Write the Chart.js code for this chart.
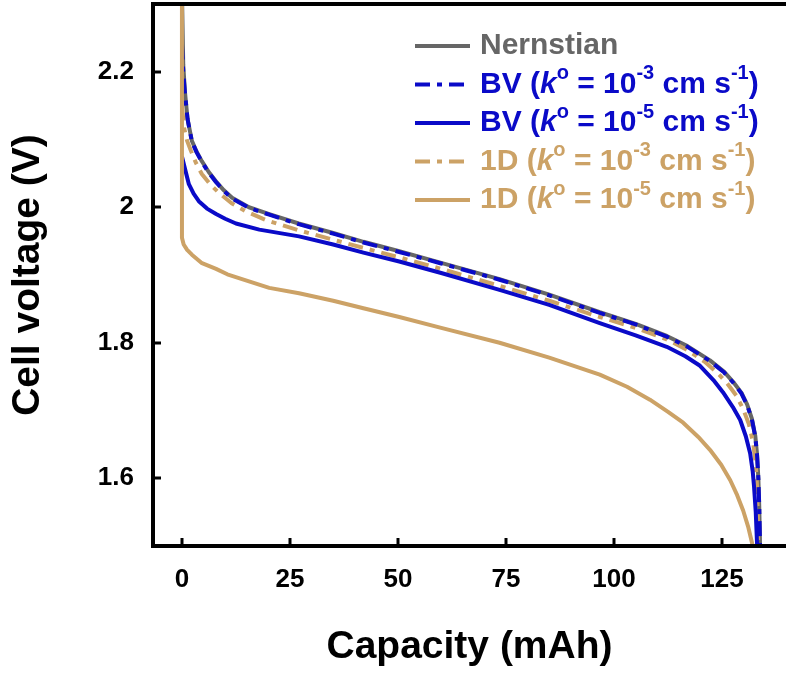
<!DOCTYPE html>
<html>
<head>
<meta charset="utf-8">
<script src="https://cdn.jsdelivr.net/npm/chart.js@4.4.1/dist/chart.umd.min.js"></script>
<style>
  html, body { margin: 0; padding: 0; background: #fff; }
  #wrap { width: 786px; height: 674px; }
</style>
</head>
<body>
<div id="wrap"><canvas id="myChart" width="786" height="674"></canvas></div>
<script>
// tick labels
const xTicks = [0, 25, 50, 75, 100, 125];
const yTicks = [1.6, 1.8, 2.0, 2.2];

// Nernstian
const nernstCap = [0, 0.05, 0.3, 0.7, 1.3, 2.3, 3.4, 4.6, 6.2, 7.9, 9.7, 11.6, 15.5, 20.2, 27, 35, 42, 50.3, 60, 73.5, 85, 96.7, 105, 112.2, 117, 122.2, 125.5, 127.6, 129.5, 130.8, 131.9, 132.7, 133.1, 133.4, 133.6, 133.8, 133.9];
const nernstV = [2.4, 2.3, 2.21, 2.17, 2.13, 2.098, 2.082, 2.068, 2.052, 2.038, 2.025, 2.014, 2.0, 1.99, 1.976, 1.962, 1.949, 1.935, 1.918, 1.894, 1.871, 1.845, 1.828, 1.81, 1.795, 1.774, 1.757, 1.742, 1.726, 1.709, 1.688, 1.662, 1.635, 1.6, 1.56, 1.5, 1.45];

// BV, k = 1e-3
const bv3Cap = [0, 0.3, 0.7, 1.3, 2.3, 3.4, 4.6, 6.2, 7.9, 9.7, 11.6, 15.5, 20.2, 27, 35, 42, 50.3, 60, 73.5, 85, 96.7, 105, 112.2, 117, 122.2, 125.5, 127.6, 129.5, 130.8, 131.9, 132.7, 133.1, 133.4, 133.6, 133.8, 133.9];
const bv3V = [2.24, 2.2, 2.168, 2.13, 2.097, 2.081, 2.067, 2.051, 2.037, 2.024, 2.013, 1.999, 1.989, 1.975, 1.961, 1.948, 1.934, 1.917, 1.893, 1.87, 1.844, 1.827, 1.809, 1.794, 1.773, 1.756, 1.741, 1.725, 1.708, 1.687, 1.661, 1.634, 1.6, 1.56, 1.5, 1.45];

// BV, k = 1e-5
const bv5Cap = [0, 0.5, 1.6, 2.7, 3.9, 5.8, 7.9, 10, 12.5, 17.9, 27.1, 35, 42, 50.3, 60, 73.5, 85, 96.7, 105, 112.2, 116.5, 119.9, 123, 125.2, 127.5, 129.2, 130.5, 131.5, 132.1, 132.4, 132.8, 133.1, 133.2];
const bv5V = [2.075, 2.062, 2.034, 2.02, 2.009, 1.998, 1.99, 1.983, 1.976, 1.967, 1.957, 1.945, 1.933, 1.92, 1.903, 1.878, 1.856, 1.829, 1.811, 1.794, 1.78, 1.766, 1.745, 1.727, 1.705, 1.686, 1.662, 1.637, 1.61, 1.588, 1.55, 1.503, 1.46];

// 1D, k = 1e-3
const d3Cap = [0, 0.5, 1.2, 2.1, 3.2, 4.6, 6.5, 8.6, 11.5, 14.8, 19.5, 27, 35, 42, 50.3, 60, 73.5, 85, 96.7, 105, 112.2, 117, 121, 124, 126.2, 128.3, 129.9, 131.2, 132.2, 132.8, 133.1, 133.3, 133.4];
const d3V = [2.15, 2.117, 2.098, 2.083, 2.066, 2.049, 2.034, 2.021, 2.006, 1.994, 1.981, 1.966, 1.952, 1.94, 1.926, 1.909, 1.884, 1.862, 1.838, 1.822, 1.805, 1.789, 1.772, 1.755, 1.74, 1.722, 1.702, 1.68, 1.652, 1.62, 1.588, 1.54, 1.48];

// 1D, k = 1e-5
const d5Cap = [0, 0, 0.4, 1.2, 2.3, 4.5, 7.9, 10.5, 13.9, 20.2, 27.1, 35, 42, 50.3, 60, 73.5, 85, 96.7, 103, 108.3, 112.5, 116, 119.5, 122.2, 124.8, 126.9, 128.5, 129.9, 131.1, 132, 132.3];
const d5V = [2.4, 1.955, 1.945, 1.937, 1.93, 1.918, 1.909, 1.901, 1.894, 1.881, 1.873, 1.862, 1.851, 1.838, 1.822, 1.8, 1.778, 1.753, 1.735, 1.716, 1.698, 1.682, 1.661, 1.642, 1.62, 1.597, 1.575, 1.552, 1.527, 1.503, 1.48];

const GRAY = '#666666';
const BLUE = '#0a0ac8';
const TAN = '#cca266';
const DASHDOT = [15, 7, 5, 7];

function pts(xs, ys) {
  return xs.map((x, i) => ({ x: x, y: ys[i] }));
}

// legend drawn by hand, because of the superscripts and the italic k
const legendRows = [
  { color: GRAY, dash: [], parts: [['Nernstian', 'n']] },
  { color: BLUE, dash: DASHDOT, parts: [['BV (', 'n'], ['k', 'i'], ['o', 's'], [' = 10', 'n'], ['-3', 's'], [' cm s', 'n'], ['-1', 's'], [')', 'n']] },
  { color: BLUE, dash: [], parts: [['BV (', 'n'], ['k', 'i'], ['o', 's'], [' = 10', 'n'], ['-5', 's'], [' cm s', 'n'], ['-1', 's'], [')', 'n']] },
  { color: TAN, dash: DASHDOT, parts: [['1D (', 'n'], ['k', 'i'], ['o', 's'], [' = 10', 'n'], ['-3', 's'], [' cm s', 'n'], ['-1', 's'], [')', 'n']] },
  { color: TAN, dash: [], parts: [['1D (', 'n'], ['k', 'i'], ['o', 's'], [' = 10', 'n'], ['-5', 's'], [' cm s', 'n'], ['-1', 's'], [')', 'n']] }
];

const FAM = '"Liberation Sans", Arial, sans-serif';

const framePlugin = {
  id: 'frame',
  afterDatasetsDraw(chart) {
    const { ctx, chartArea: a, scales } = chart;
    ctx.save();
    ctx.strokeStyle = '#000';
    ctx.lineCap = 'butt';
    // ticks, pointing inward
    ctx.lineWidth = 3;
    xTicks.forEach(v => {
      const px = Math.round(scales.x.getPixelForValue(v));
      ctx.beginPath();
      ctx.moveTo(px, a.bottom);
      ctx.lineTo(px, a.bottom - 8);
      ctx.stroke();
    });
    yTicks.forEach(v => {
      const py = Math.round(scales.y.getPixelForValue(v));
      ctx.beginPath();
      ctx.moveTo(a.left, py);
      ctx.lineTo(a.left + 8, py);
      ctx.stroke();
    });
    // box: left, bottom, top
    ctx.lineWidth = 4;
    ctx.beginPath();
    ctx.moveTo(chart.width, a.top);
    ctx.lineTo(a.left, a.top);
    ctx.lineTo(a.left, a.bottom);
    ctx.lineTo(chart.width, a.bottom);
    ctx.stroke();
    ctx.restore();
  },
  afterDraw(chart) {
    const ctx = chart.ctx;
    ctx.save();
    let y = 46;
    legendRows.forEach(row => {
      ctx.strokeStyle = row.color;
      ctx.lineWidth = 4;
      ctx.setLineDash(row.dash);
      ctx.beginPath();
      ctx.moveTo(415, y);
      ctx.lineTo(470, y);
      ctx.stroke();
      ctx.setLineDash([]);
      ctx.fillStyle = row.color;
      ctx.textBaseline = 'middle';
      let x = 480;
      row.parts.forEach(([txt, kind]) => {
        let dy = 0;
        if (kind === 'i') ctx.font = 'italic bold 30px ' + FAM;
        else if (kind === 's') { ctx.font = 'bold 20px ' + FAM; dy = -11; }
        else ctx.font = 'bold 30px ' + FAM;
        ctx.fillText(txt, x, y + dy);
        x += ctx.measureText(txt).width;
      });
      y += 38.5;
    });
    ctx.restore();
  }
};

document.addEventListener('DOMContentLoaded', function() {
  if (typeof Chart === 'undefined') {
    console.error('Chart.js is not loaded');
    return;
  }

  const ctx = document.getElementById('myChart');
  const line = { fill: false, pointRadius: 0, borderWidth: 4, tension: 0, borderCapStyle: 'butt', borderJoinStyle: 'round' };

  new Chart(ctx, {
    type: 'line',
    data: {
      datasets: [
        Object.assign({ label: 'Nernstian', data: pts(nernstCap, nernstV), borderColor: GRAY, order: 5 }, line),
        Object.assign({ label: 'BV 1e-3', data: pts(bv3Cap, bv3V), borderColor: BLUE, borderDash: DASHDOT, order: 2 }, line),
        Object.assign({ label: 'BV 1e-5', data: pts(bv5Cap, bv5V), borderColor: BLUE, order: 3 }, line),
        Object.assign({ label: '1D 1e-3', data: pts(d3Cap, d3V), borderColor: TAN, borderDash: DASHDOT, order: 4 }, line),
        Object.assign({ label: '1D 1e-5', data: pts(d5Cap, d5V), borderColor: TAN, order: 1 }, line)
      ]
    },
    options: {
      responsive: false,
      animation: false,
      devicePixelRatio: 1,
      layout: { padding: { top: 4, right: 0, left: 0, bottom: 0 } },
      plugins: { legend: { display: false }, tooltip: { enabled: false } },
      scales: {
        x: {
          type: 'linear',
          min: -6.7,
          max: 139.8,
          afterFit: s => { s.height = 128; s.paddingLeft = 0; s.paddingRight = 0; },
          afterBuildTicks: s => { s.ticks = xTicks.map(v => ({ value: v })); },
          grid: { display: false, drawTicks: false },
          border: { display: false },
          ticks: { color: '#000', font: { family: FAM, size: 26, weight: 'bold' }, padding: 18, maxRotation: 0 },
          title: { display: true, text: 'Capacity (mAh)', color: '#000', font: { family: FAM, size: 39, weight: 'bold' }, padding: { top: 0, bottom: 3 } }
        },
        y: {
          min: 1.5,
          max: 2.3,
          afterFit: s => { s.width = 153; s.paddingTop = 0; s.paddingBottom = 0; },
          afterBuildTicks: s => { s.ticks = yTicks.map(v => ({ value: v })); },
          grid: { display: false, drawTicks: false },
          border: { display: false },
          ticks: { color: '#000', font: { family: FAM, size: 26, weight: 'bold' }, padding: 19, callback: v => String(+v.toFixed(1)) },
          title: { display: true, text: 'Cell voltage (V)', color: '#000', font: { family: FAM, size: 39, weight: 'bold' }, padding: { top: 5, bottom: 0 } }
        }
      }
    },
    plugins: [framePlugin]
  });
});
</script>
</body>
</html>
